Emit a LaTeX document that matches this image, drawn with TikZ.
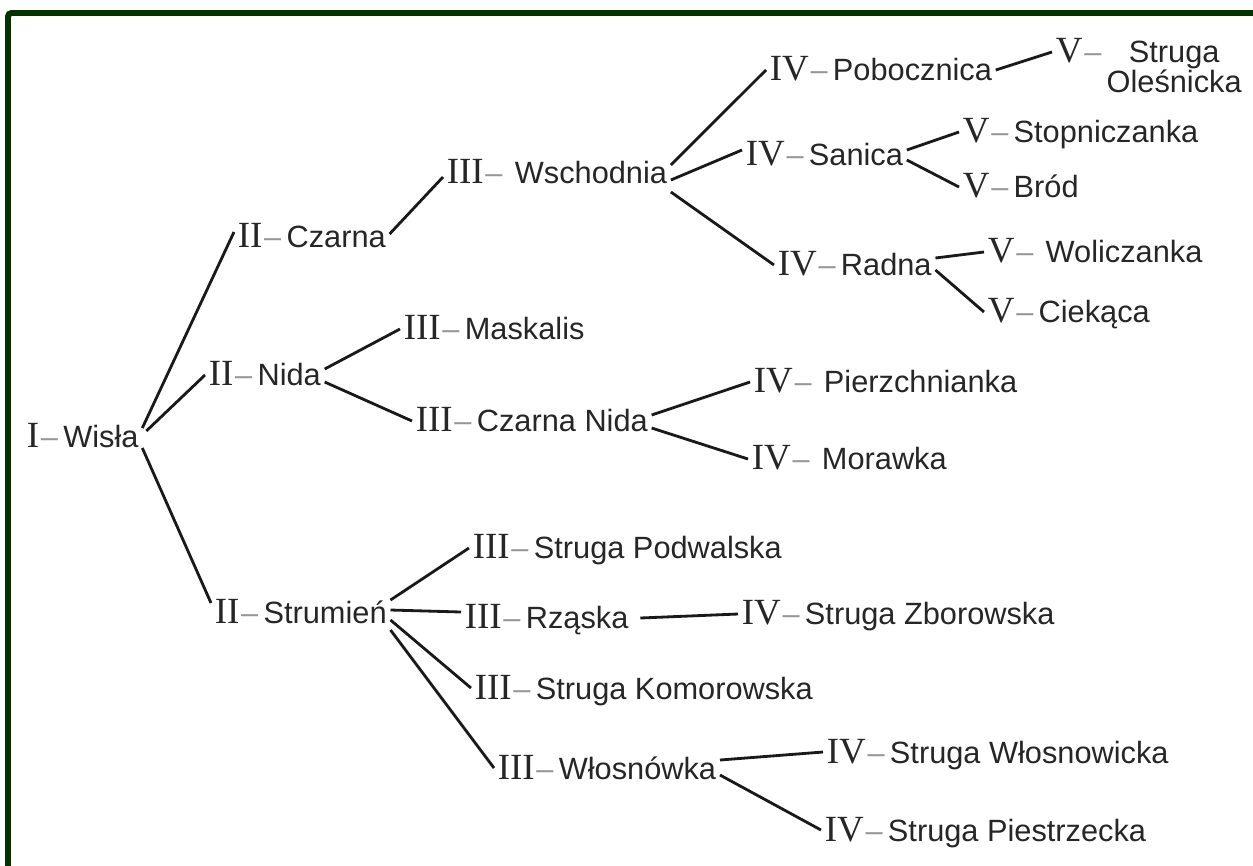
\documentclass[tikz,border=0pt]{standalone}
\usepackage{fontspec}
\setmainfont{Liberation Sans}
\newfontfamily\romanfont{Liberation Serif}
\usetikzlibrary{calc}

\definecolor{framegreen}{RGB}{0,51,0}
\definecolor{dashgrey}{RGB}{150,150,150}
\definecolor{linegrey}{RGB}{25,25,25}

% order numeral, grey dash, river name
\newcommand{\river}[2]{{\romanfont\fontsize{21}{22}\selectfont #1}\kern1pt{\color{dashgrey}–}\kern3pt #2}
\newcommand{\gap}{\kern4pt}

\tikzset{
  stream/.style={anchor=west, inner xsep=2pt, inner ysep=0pt, text height=12.5pt, text depth=0pt, text=black!85, font=\fontsize{17.5}{18}\selectfont},
  branch/.style={line width=1.6pt, linegrey}
}

\begin{document}
\begin{tikzpicture}[x=0.2mm, y=-0.2mm]
\useasboundingbox (0,0) rectangle (1253,865);
% frame
\draw[line width=3.4pt, framegreen, rounded corners=2pt] (8,870) -- (8,13) -- (1260,13);

% order I and II
\node[stream] (wisla) at (23,437) {\river{I}{Wisła}};
\node[stream] (czarna) at (234,237) {\river{II}{Czarna}};
\node[stream] (nida) at (205,375) {\river{II}{Nida}};
\node[stream] (strumien) at (211,613) {\river{II}{Strumień}};

% order III
\node[stream] (wschodnia) at (443,173) {\river{III}{\gap Wschodnia}};
\node[stream] (maskalis) at (400,329) {\river{III}{Maskalis}};
\node[stream] (czarnanida) at (412,421) {\river{III}{Czarna Nida}};
\node[stream] (podwalska) at (469,548) {\river{III}{Struga Podwalska}};
\node[stream] (rzaska) at (461,618) {\river{III}{Rząska}};
\node[stream] (komorowska) at (471,688) {\river{III}{Struga Komorowska}};
\node[stream] (wlosnowka) at (494,768) {\river{III}{Włosnówka}};

% order IV
\node[stream] (pobocznica) at (766,70) {\river{IV}{Pobocznica}};
\node[stream] (sanica) at (742,155) {\river{IV}{Sanica}};
\node[stream] (radna) at (774,265) {\river{IV}{Radna}};
\node[stream] (pierzchnianka) at (750,382) {\river{IV}{\gap Pierzchnianka}};
\node[stream] (morawka) at (748,459) {\river{IV}{\gap Morawka}};
\node[stream] (zborowska) at (738,614) {\river{IV}{Struga Zborowska}};
\node[stream] (wlosnowicka) at (823,752) {\river{IV}{Struga Włosnowicka}};
\node[stream] (piestrzecka) at (821,830) {\river{IV}{Struga Piestrzecka}};

% order V
\node[stream] (olesnicka) at (1052,52) {\river{V}{\begin{tabular}[t]{@{}c@{}}Struga\\[-1.5pt]Oleśnicka\end{tabular}}};
\node[stream] (stopniczanka) at (959,132) {\river{V}{Stopniczanka}};
\node[stream] (brod) at (959,187) {\river{V}{Bród}};
\node[stream] (woliczanka) at (984,252) {\river{V}{\gap Woliczanka}};
\node[stream] (ciekaca) at (984,312) {\river{V}{Ciekąca}};

% branches
\draw[branch] ($(wisla.east)+(0,-9)$) -- ($(czarna.west)+(0,-5)$);
\draw[branch] ($(wisla.east)+(4,-6)$) -- (nida.west);
\draw[branch] ($(wisla.east)+(0,11)$) -- ($(strumien.west)+(0,-10)$);
\draw[branch] ($(czarna.east)+(0,-3)$) -- ($(wschodnia.west)+(0,4)$);
\draw[branch] ($(nida.east)+(0,-6)$) -- (maskalis.west);
\draw[branch] ($(nida.east)+(0,7)$) -- (czarnanida.west);
\draw[branch] ($(wschodnia.east)+(0,-8)$) -- (pobocznica.west);
\draw[branch] ($(wschodnia.east)+(0,7)$) -- ($(sanica.west)+(0,-5)$);
\draw[branch] ($(wschodnia.east)+(0,19)$) -- (radna.west);
\draw[branch] (pobocznica.east) -- (olesnicka.west);
\draw[branch] ($(sanica.east)+(0,-5)$) -- (stopniczanka.west);
\draw[branch] ($(sanica.east)+(0,5)$) -- (brod.west);
\draw[branch] ($(radna.east)+(0,-7)$) -- (woliczanka.west);
\draw[branch] ($(radna.east)+(0,5)$) -- (ciekaca.west);
\draw[branch] ($(czarnanida.east)+(0,-6)$) -- (pierzchnianka.west);
\draw[branch] ($(czarnanida.east)+(0,7)$) -- (morawka.west);
\draw[branch] ($(strumien.east)+(0,-13)$) -- (podwalska.west);
\draw[branch] ($(strumien.east)+(0,-3)$) -- ($(rzaska.west)+(0,-6)$);
\draw[branch] ($(strumien.east)+(0,7)$) -- (komorowska.west);
\draw[branch] ($(strumien.east)+(0,17)$) -- (wlosnowka.west);
\draw[branch] ($(rzaska.east)+(8,0)$) -- (zborowska.west);
\draw[branch] ($(wlosnowka.east)+(0,-8)$) -- (wlosnowicka.west);
\draw[branch] ($(wlosnowka.east)+(0,7)$) -- (piestrzecka.west);
\end{tikzpicture}
\end{document}
